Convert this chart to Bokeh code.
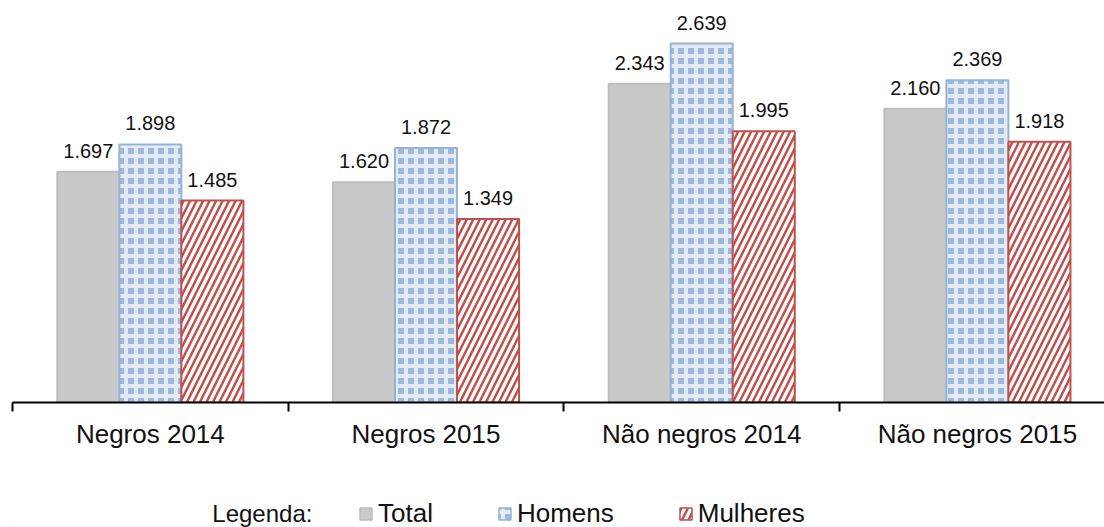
from bokeh.plotting import figure
from bokeh.layouts import column
from bokeh.models import (Range1d, FixedTicker, Legend, LegendItem, LabelSet,
                          ColumnDataSource, Label)
from bokeh.core.properties import value
from bokeh.embed import file_html
from bokeh.resources import INLINE

categories = ["Negros 2014", "Negros 2015", "Não negros 2014", "Não negros 2015"]
series = ["Total", "Homens", "Mulheres"]
total = [1697, 1620, 2343, 2160]
homens = [1898, 1872, 2639, 2369]
mulheres = [1485, 1349, 1995, 1918]

FONT = "Liberation Sans"
TXT = "#111111"

def fmt(v):
    return f"{v:,}".replace(",", ".")

p = figure(width=1104, height=490, output_backend="svg", toolbar_location=None,
           x_range=Range1d(0, 3.961), y_range=Range1d(0, 2956),
           min_border_left=12, min_border_right=0, min_border_top=0,
           min_border_bottom=88)
p.outline_line_color = None
p.xgrid.visible = False
p.ygrid.visible = False
p.yaxis.visible = False

centers = [i + 0.5 for i in range(len(categories))]
w = 0.225
offs = [-w, 0.0, w]

styles = [
    dict(fill_color="#C9C9C9", line_color="#BDBDBD"),
    dict(fill_color="#9DB8DB", line_color="#95B3D7", hatch_pattern="+",
         hatch_color="white", hatch_weight=4, hatch_scale=10, hatch_alpha=0.7),
    dict(fill_color="white", line_color="#C0504D", hatch_pattern="/",
         hatch_color="#C0504D", hatch_weight=2.5, hatch_scale=13),
]

for vals, off, st in zip([total, homens, mulheres], offs, styles):
    src = ColumnDataSource(dict(x=[c + off for c in centers], top=vals,
                                lab=[fmt(v) for v in vals]))
    p.vbar(x="x", top="top", bottom=0, width=w, source=src, line_width=2, **st)
    ls = LabelSet(x="x", y="top", text="lab", source=src, y_offset=14,
                  text_align="center", text_baseline="alphabetic",
                  text_font=value(FONT), text_font_size=value("20px"),
                  text_color=TXT)
    p.add_layout(ls)

ax = p.xaxis[0]
ax.ticker = FixedTicker(ticks=centers, minor_ticks=list(range(len(categories) + 1)))
ax.major_label_overrides = {c: lab for c, lab in zip(centers, categories)}
ax.major_tick_out = 0
ax.major_tick_in = 0
ax.minor_tick_out = 9
ax.minor_tick_in = 0
ax.minor_tick_line_color = "black"
ax.minor_tick_line_width = 2
ax.axis_line_color = "black"
ax.axis_line_width = 2
ax.major_label_text_font = FONT
ax.major_label_text_font_size = "26px"
ax.major_label_text_color = TXT
ax.major_label_standoff = 7

# legend row
q = figure(width=1104, height=37, output_backend="svg", toolbar_location=None,
           x_range=Range1d(0, 1104), y_range=Range1d(0, 37),
           x_axis_type=None, y_axis_type=None,
           min_border_left=0, min_border_right=0, min_border_top=0, min_border_bottom=0)
q.outline_line_color = None
q.xgrid.visible = False
q.ygrid.visible = False

leg_renderers = []
for st in styles:
    leg_renderers.append(q.vbar(x=[-100000], top=[-99999], bottom=-100000, width=1,
                                line_width=1.5, **st))

legend = Legend(items=[LegendItem(label=s, renderers=[r]) for s, r in zip(series, leg_renderers)],
                orientation="horizontal", location=(346, -2),
                label_text_font=FONT, label_text_font_size="26px",
                label_text_color=TXT, glyph_width=15, glyph_height=15,
                label_standoff=5, spacing=64, padding=0, margin=0,
                label_height=30,
                border_line_color=None, background_fill_alpha=0)
q.add_layout(legend, "center")
q.add_layout(Label(x=202, y=14, text="Legenda:", text_font=FONT,
                   text_font_size="24px", text_color=TXT,
                   text_baseline="middle"))

open("out.html", "w").write(file_html(column(p, q, spacing=0), INLINE))
